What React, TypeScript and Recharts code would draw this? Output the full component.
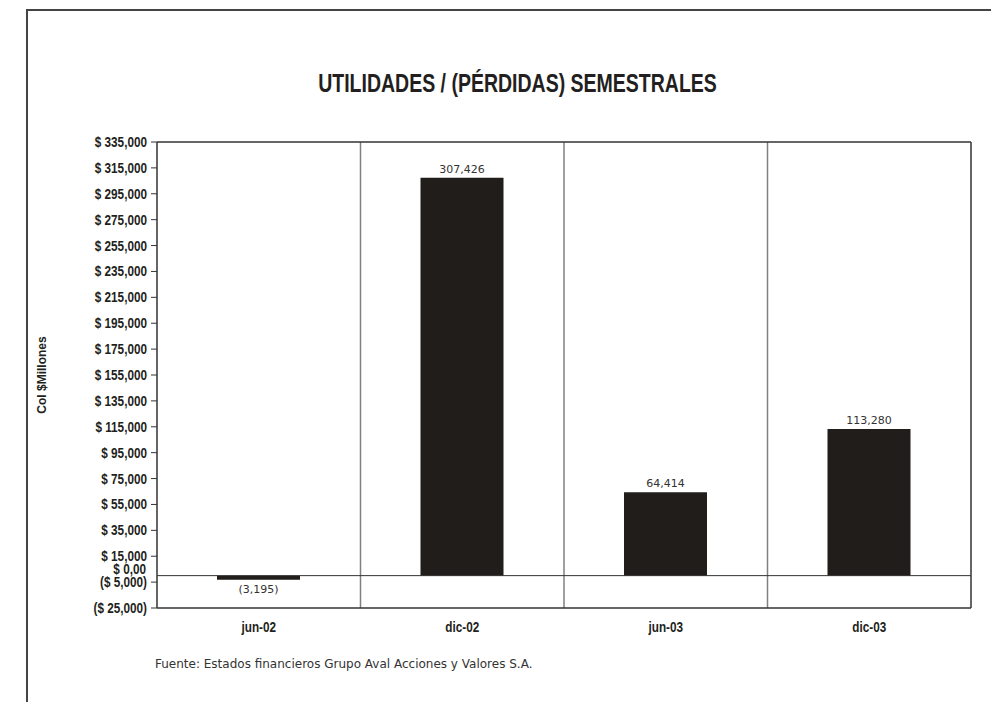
import React from 'react';
import { BarChart, Bar, XAxis, YAxis, ReferenceLine, LabelList } from 'recharts';

const periodos = ['jun-02', 'dic-02', 'jun-03', 'dic-03'];
const utilidades = [-3195, 307426, 64414, 113280];
const yTicks = [-25000, -5000, 15000, 35000, 55000, 75000, 95000, 115000, 135000, 155000, 175000, 195000, 215000, 235000, 255000, 275000, 295000, 315000, 335000];

const data = periodos.map((p, i) => ({ periodo: p, valor: utilidades[i] }));

const BOLD = "'Liberation Sans', Arial, sans-serif";
const GOTHIC = "'DejaVu Sans', sans-serif";
const INK = '#231f20';

const fmtMoney = (v: number) =>
  v < 0 ? `($ ${Math.abs(v).toLocaleString('en-US')})` : `$ ${v.toLocaleString('en-US')}`;
const fmtLabel = (v: any) => {
  const n = Number(v);
  return n < 0 ? `(${Math.abs(n).toLocaleString('en-US')})` : n.toLocaleString('en-US');
};

// texto condensado (simula Arial Narrow)
const Narrow = ({ x, y, text, anchor, dy }: { x: number; y: number; text: string; anchor: string; dy: string }) => (
  <g transform={`translate(${x},${y})`}>
    <text
      transform="scale(0.84,1)"
      textAnchor={anchor as any}
      dy={dy}
      fill={INK}
      fontSize={14}
      fontWeight="bold"
      fontFamily={BOLD}
    >
      {text}
    </text>
  </g>
);

const YTick = (props: any) => (
  <Narrow x={props.x} y={props.y} text={fmtMoney(props.payload.value)} anchor="end" dy="0.355em" />
);
const XTick = (props: any) => (
  <Narrow x={props.x} y={props.y} text={props.payload.value} anchor="middle" dy="0.71em" />
);
const ZeroLabel = (props: any) => {
  const vb = props.viewBox || {};
  return <Narrow x={vb.x - 11} y={vb.y - 7} text="$ 0,00" anchor="end" dy="0.355em" />;
};

export default function App() {
  return (
    <div style={{ position: 'relative', width: 999, height: 710, margin: -8, overflow: 'hidden', background: '#fff' }}>
      {/* marco exterior */}
      <div
        style={{
          position: 'absolute', left: 26, top: 9, width: 1000, height: 1000,
          borderLeft: '2px solid #444', borderTop: '2px solid #444',
        }}
      />
      <div
        style={{
          position: 'absolute', left: 0, width: 1035, top: 69, textAlign: 'center',
          fontFamily: BOLD, fontWeight: 'bold', fontSize: 25, color: INK, lineHeight: '28px',
          transform: 'scaleX(0.78)', transformOrigin: '517.5px 0',
        }}
      >
        UTILIDADES / (PÉRDIDAS) SEMESTRALES
      </div>
      <div style={{ position: 'absolute', left: 0, top: 0 }}>
        <BarChart
          width={999}
          height={702}
          data={data}
          margin={{ top: 142, right: 28, left: 30, bottom: 64 }}
          barSize={83}
        >
          <XAxis
            dataKey="periodo"
            axisLine={{ stroke: '#333', strokeWidth: 1.5 }}
            tickLine={false}
            tickSize={0}
            tickMargin={14}
            height={30}
            tick={XTick}
          />
          <YAxis
            width={127}
            domain={[-25000, 335000]}
            ticks={yTicks}
            interval={0}
            axisLine={{ stroke: '#333', strokeWidth: 1.5 }}
            tickLine={{ stroke: '#333' }}
            tickSize={6}
            tickMargin={4}
            tick={YTick}
            label={{
              value: 'Col $Millones', angle: -90, position: 'insideLeft', offset: 12,
              style: { fill: INK, fontSize: 12, fontWeight: 'bold', fontFamily: BOLD, textAnchor: 'middle' },
            }}
          />
          <ReferenceLine x="dic-02" position="start" stroke="#808080" strokeWidth={1.5} />
          <ReferenceLine x="jun-03" position="start" stroke="#808080" strokeWidth={1.5} />
          <ReferenceLine x="dic-03" position="start" stroke="#808080" strokeWidth={1.5} />
          <ReferenceLine x="dic-03" position="end" stroke="#333" strokeWidth={1.5} />
          <ReferenceLine y={335000} stroke="#333" strokeWidth={1.5} />
          <ReferenceLine y={0} stroke="#333" strokeWidth={1} label={ZeroLabel} />
          <Bar dataKey="valor" fill="#211d1a" isAnimationActive={false}>
            <LabelList
              dataKey="valor"
              position="top"
              offset={5}
              formatter={fmtLabel}
              style={{ fill: '#333', fontSize: 11, fontFamily: GOTHIC }}
            />
          </Bar>
        </BarChart>
      </div>
      <div
        style={{
          position: 'absolute', left: 155, top: 657, fontFamily: GOTHIC, fontSize: 12, color: '#333',
          whiteSpace: 'nowrap',
        }}
      >
        Fuente: Estados financieros Grupo Aval Acciones y Valores S.A.
      </div>
    </div>
  );
}
